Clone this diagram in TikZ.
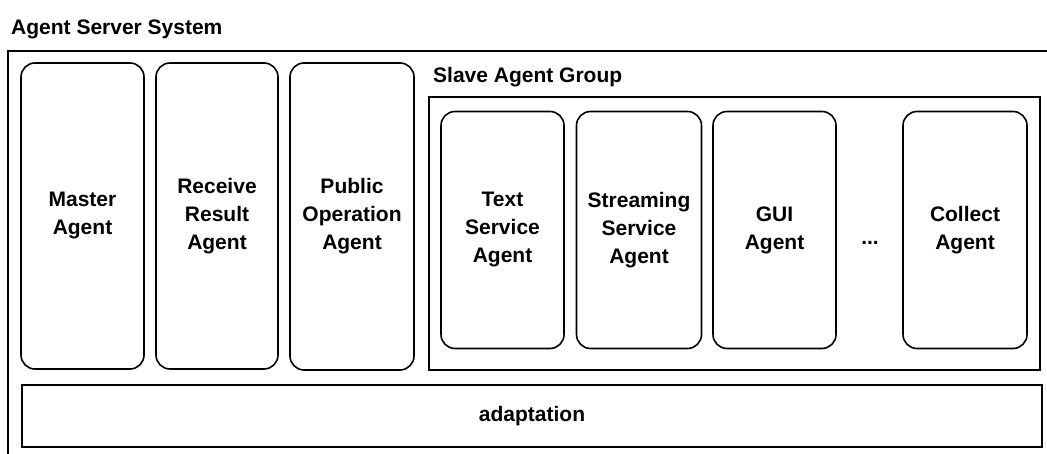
\documentclass[tikz,border=0pt]{standalone}
\usepackage{fontspec}
\setmainfont{Liberation Sans}
\begin{document}
\begin{tikzpicture}[x=1pt,y=-1pt,
  lbl/.style={font=\fontsize{21}{28}\selectfont\bfseries, inner sep=0pt},
  agent/.style={draw, line width=1.6pt, rounded corners=14pt, align=center,
    font=\fontsize{21}{28}\selectfont\bfseries, inner sep=0pt,
    minimum width=123pt},
  frame/.style={draw, line width=1.6pt, inner sep=0pt}]
\useasboundingbox (0,0) rectangle (1047,454);
\clip (0,0) rectangle (1047,454);
% outer system frame (extends past the right and bottom edges)
\node[frame, anchor=north west, minimum width=1060pt, minimum height=430pt] (sys) at (7,50) {};
\node[lbl, anchor=base west] (systitle) at (11,35) {Agent Server System};
% top-level agents
\node[agent, minimum height=306pt] (master) at (82.5,216) {Master\\Agent};
\node[agent, minimum width=122pt, minimum height=306pt] (receive) at (217,216) {Receive\\Result\\Agent};
\node[agent, minimum width=124pt, minimum height=307pt] (public) at (352,216.5) {Public\\Operation\\Agent};
% slave group
\node[frame, minimum width=611pt, minimum height=273pt] (slave) at (734.5,233.5) {};
\node[lbl, anchor=base west] (slavetitle) at (433,83) {Slave Agent Group};
\node[agent, minimum height=237pt] (text) at (502.5,230) {Text\\Service\\Agent};
\node[agent, minimum width=125pt, minimum height=237pt] (stream) at (639,230) {Streaming\\Service\\Agent};
\node[agent, minimum height=237pt] (gui) at (774.5,230) {GUI\\Agent};
\node[lbl] (dots) at (870,243) {...};
\node[agent, minimum width=124pt, minimum height=237pt] (collect) at (965,230) {Collect\\Agent};
% adaptation layer
\node[frame, minimum width=1020pt, minimum height=62pt, font=\fontsize{21}{28}\selectfont\bfseries] (adapt) at (532,416) {adaptation};
\end{tikzpicture}
\end{document}
